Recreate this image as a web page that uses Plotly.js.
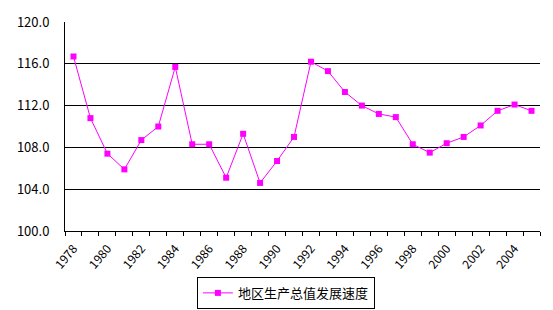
<!DOCTYPE html>
<html>
<head>
<meta charset="utf-8">
<script src="https://cdn.plot.ly/plotly-3.0.1.min.js"></script>
<style>html,body{margin:0;padding:0;background:#fff;}#chart{width:553px;height:310px;}</style>
</head>
<body>
<div id="chart"></div>
<script>
var years = [1978,1979,1980,1981,1982,1983,1984,1985,1986,1987,1988,1989,1990,1991,1992,1993,1994,1995,1996,1997,1998,1999,2000,2001,2002,2003,2004,2005];
var growth = [116.7,110.8,107.4,105.9,108.7,110.0,115.7,108.3,108.3,105.1,109.3,104.6,106.7,109.0,116.2,115.3,113.3,112.0,111.2,110.9,108.3,107.5,108.4,109.0,110.1,111.5,112.1,111.5];
var tickYears = [1978,1980,1982,1984,1986,1988,1990,1992,1994,1996,1998,2000,2002,2004];
var tickLabels = ["1978","1980","1982","1984","1986","1988","1990","1992","1994","1996","1998","2000","2002","2004"];
var seriesName = "地区生产总值发展速度";

var trace = {
  x: years, y: growth, type: 'scatter', mode: 'lines+markers', name: seriesName,
  line: {color: '#FF00FF', width: 1},
  marker: {symbol: 'square', size: 6, color: '#FF00FF'}
};
var layout = {
  width: 553, height: 310,
  margin: {l: 65, r: 13, t: 22, b: 79, autoexpand: false},
  paper_bgcolor: '#fff', plot_bgcolor: '#fff',
  font: {family: '"Noto Sans CJK SC", "DejaVu Sans", sans-serif', size: 12, color: '#000'},
  showlegend: true,
  legend: {orientation: 'h', xref: 'container', yref: 'container', x: 0.517, xanchor: 'center', y: 0.055, yanchor: 'middle',
    bordercolor: '#000', borderwidth: 1, font: {size: 13}, itemwidth: 30},
  xaxis: {
    range: [1977.5, 2005.5], tickvals: tickYears, ticktext: tickLabels,
    tickangle: -50, ticks: '', showgrid: false, zeroline: false, automargin: false,
    showline: true, linecolor: '#000', linewidth: 1, ticklabelstandoff: 5,
    minor: {tick0: 1977.5, dtick: 1, ticks: 'outside', ticklen: 4, tickcolor: '#000', showgrid: false},
    tickfont: {size: 12}
  },
  yaxis: {
    range: [100, 120], dtick: 4, tick0: 100, tickformat: '.1f', automargin: false,
    showgrid: true, gridcolor: '#000', gridwidth: 1, zeroline: false,
    showline: true, linecolor: '#000', linewidth: 1, ticks: '', ticklabelstandoff: 12,
    tickfont: {size: 13}
  }
};
Plotly.newPlot('chart', [trace], layout, {staticPlot: true});
</script>
</body>
</html>
